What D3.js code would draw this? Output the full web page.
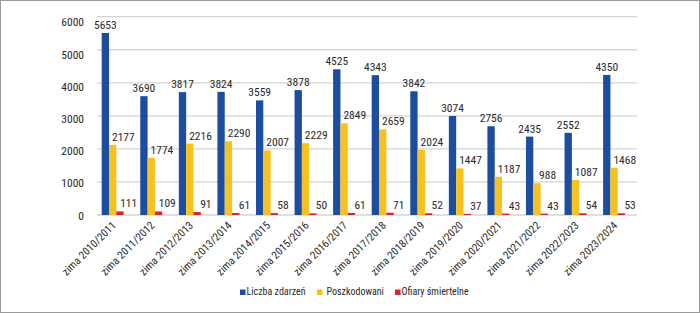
<!DOCTYPE html>
<html>
<head>
<meta charset="utf-8">
<script src="https://cdn.jsdelivr.net/npm/d3@7"></script>
<style>
  html, body { margin: 0; padding: 0; background: #fff; }
  svg { display: block; }
  text { font-family: "Liberation Sans Narrow", "Arial Narrow", "Roboto Condensed", sans-serif; fill: #2a2a2a; }
</style>
</head>
<body>
<svg id="chart" width="700" height="313"></svg>
<script>
const categories = ["zima 2010/2011","zima 2011/2012","zima 2012/2013","zima 2013/2014","zima 2014/2015","zima 2015/2016","zima 2016/2017","zima 2017/2018","zima 2018/2019","zima 2019/2020","zima 2020/2021","zima 2021/2022","zima 2022/2023","zima 2023/2024"];
const seriesNames = ["Liczba zdarzeń","Poszkodowani","Ofiary śmiertelne"];
const liczbaZdarzen = [5653,3690,3817,3824,3559,3878,4525,4343,3842,3074,2756,2435,2552,4350];
const poszkodowani = [2177,1774,2216,2290,2007,2229,2849,2659,2024,1447,1187,988,1087,1468];
const ofiary = [111,109,91,61,58,50,61,71,52,37,43,43,54,53];
const yTicks = [0,1000,2000,3000,4000,5000,6000];
const colors = ["#1c4d9e","#f7c21f","#d7242e"];

const series = [liczbaZdarzen, poszkodowani, ofiary];
const svg = d3.select("#chart");

// frame
svg.append("rect").attr("x",0.5).attr("y",0.5).attr("width",699).attr("height",312)
  .attr("fill","#fff").attr("stroke","#9a9a9a").attr("stroke-width",1);

const x0 = d3.scaleBand().domain(categories).range([93.4, 633.4]).paddingInner(0.43).paddingOuter(0.215);
const x1 = d3.scaleBand().domain(seriesNames).range([0, x0.bandwidth()]);
const y = d3.scaleLinear().domain([0,6000]).range([215, 21.8]);
const yGrid = d3.scaleLinear().domain([0,6000]).range([215, 16.7]);

// gridlines
svg.append("g").selectAll("line").data(yTicks).join("line")
  .attr("x1",97).attr("x2",637)
  .attr("y1",d=>yGrid(d)).attr("y2",d=>yGrid(d))
  .attr("stroke","#d4d4d4").attr("stroke-width",1.3);

// y tick labels
svg.append("g").selectAll("text").data(yTicks).join("text")
  .attr("x",84).attr("y",d=>y(d)+1.5)
  .attr("text-anchor","end").attr("dominant-baseline","middle")
  .style("font-size","11.5px").text(d=>d);

// bars
const groups = svg.append("g").selectAll("g").data(categories).join("g")
  .attr("transform",d=>`translate(${x0(d)},0)`);

seriesNames.forEach((s,si)=>{
  groups.append("rect")
    .attr("x",x1(s)).attr("width",x1.bandwidth())
    .attr("y",(d,i)=>y(series[si][i]))
    .attr("height",(d,i)=>y(0)-y(series[si][i]))
    .attr("fill",colors[si]);
});

// value labels
const labelDx = [0, 7, 5];
seriesNames.forEach((s,si)=>{
  groups.append("text")
    .attr("x", si===0 ? x1(s)+x1.bandwidth()/2 : x1(s)+x1.bandwidth()+labelDx[si])
    .attr("y",(d,i)=>y(series[si][i])-4)
    .attr("text-anchor","middle")
    .style("font-size","11.5px")
    .text((d,i)=>series[si][i]);
});

// x axis labels
svg.append("g").selectAll("text").data(categories).join("text")
  .attr("transform",d=>`translate(${x0(d)+x0.bandwidth()/2+2},224) rotate(-45)`)
  .attr("text-anchor","end").attr("dominant-baseline","middle")
  .style("font-size","11px").text(d=>d);

// legend
const legendX = [240, 317, 395];
const leg = svg.append("g").selectAll("g").data(seriesNames).join("g")
  .attr("transform",(d,i)=>`translate(${legendX[i]},292)`);
leg.append("rect").attr("x",0).attr("y",-2.5).attr("width",5.5).attr("height",5.5)
  .attr("fill",(d,i)=>colors[i]);
leg.append("text").attr("x",(d,i)=> i===1 ? 9.5 : 6.5).attr("y",0.5)
  .attr("dominant-baseline","middle").style("font-size","10px").text(d=>d);
</script>
</body>
</html>
